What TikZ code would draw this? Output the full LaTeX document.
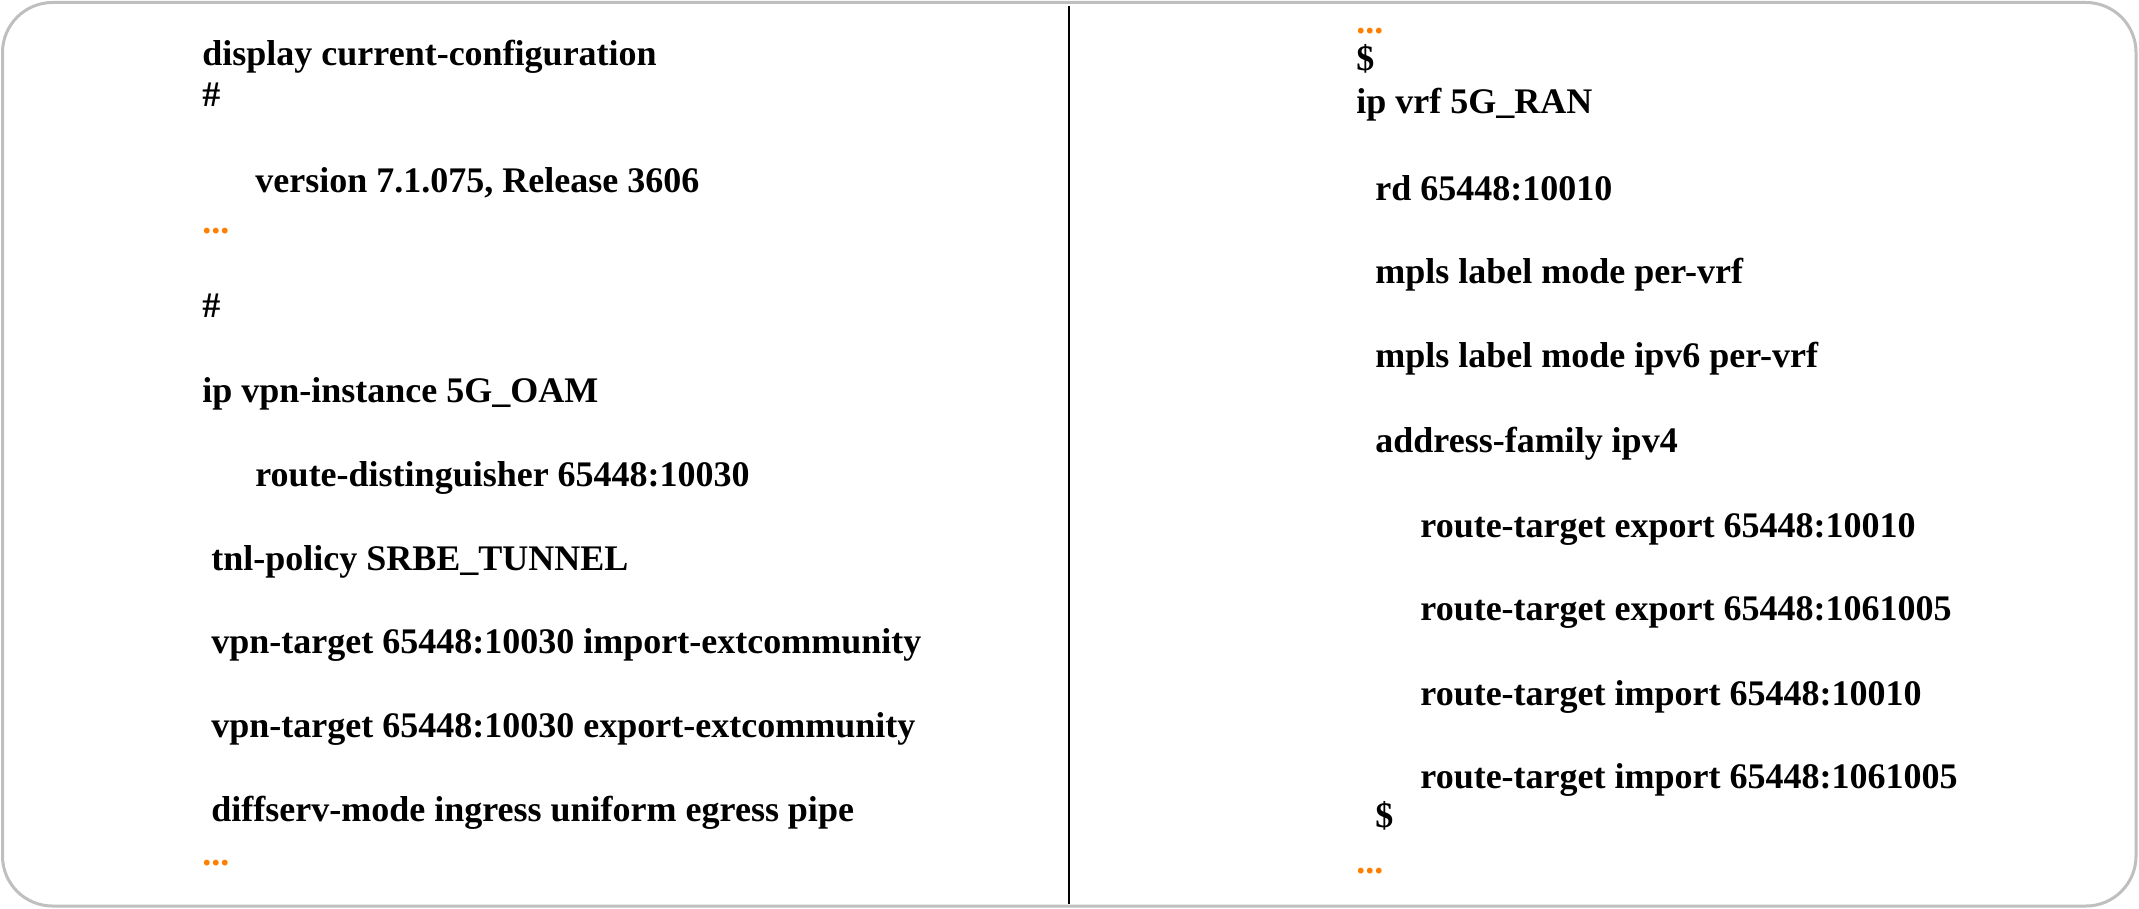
\documentclass[tikz,border=0pt]{standalone}
\usepackage{fontspec}
\setmainfont{Liberation Serif}
\definecolor{frameGray}{RGB}{191,191,191}
\definecolor{dotOrange}{RGB}{255,128,0}
\tikzstyle{cfgline} = [anchor=base west, inner sep=0pt, font=\fontsize{18}{20}\selectfont\bfseries]
\tikzstyle{cfgdots} = [cfgline, text=dotOrange]
\tikzstyle{cfgframe} = [draw=frameGray, line width=1.5pt, rounded corners=25pt]

\begin{document}
\begin{tikzpicture}[x=0.5pt, y=-0.5pt]
\useasboundingbox (0,0) rectangle (2139,909);
\draw[cfgframe] (2.5,2.5) rectangle (2136,906);
% divider between the two listings
\coordinate (divtop) at (1069,6);
\coordinate (divbot) at (1069,904);
\draw[line width=1.4pt] (divtop) -- (divbot);

% left listing
\node[cfgline](dispcfg) at (202,66) {display current-configuration};
\node[cfgline](hashone) at (202,107) {\#};
\node[cfgline](version) at (255,192) {version 7.1.075, Release 3606};
\node[cfgdots](dotsone) at (202,234) {...};
\node[cfgline](hashtwo) at (202,317) {\#};
\node[cfgline](vpninst) at (202,402) {ip vpn-instance 5G\_OAM};
\node[cfgline](routedist) at (255,486) {route-distinguisher 65448:10030};
\node[cfgline](tnlpolicy) at (211,570) {tnl-policy SRBE\_TUNNEL};
\node[cfgline](vpnimport) at (211,653) {vpn-target 65448:10030 import-extcommunity};
\node[cfgline](vpnexport) at (211,737) {vpn-target 65448:10030 export-extcommunity};
\node[cfgline](diffserv) at (211,821) {diffserv-mode ingress uniform egress pipe};
\node[cfgdots](dotstwo) at (202,865) {...};

% right listing
\node[cfgdots](dotsthree) at (1356,34) {...};
\node[cfgline](dollarone) at (1356,71) {\$};
\node[cfgline](ipvrf) at (1356,114) {ip vrf 5G\_RAN};
\node[cfgline](rdvalue) at (1375,200) {rd 65448:10010};
\node[cfgline](mplsfour) at (1375,283) {mpls label mode per-vrf};
\node[cfgline](mplssix) at (1375,367) {mpls label mode ipv6 per-vrf};
\node[cfgline](addrfam) at (1375,452) {address-family ipv4};
\node[cfgline](rtexpone) at (1420,537) {route-target export 65448:10010};
\node[cfgline](rtexptwo) at (1420,620) {route-target export 65448:1061005};
\node[cfgline](rtimpone) at (1420,705) {route-target import 65448:10010};
\node[cfgline](rtimptwo) at (1420,788) {route-target import 65448:1061005};
\node[cfgline](dollartwo) at (1375,827) {\$};
\node[cfgdots](dotsfour) at (1356,873) {...};
\end{tikzpicture}
\end{document}
